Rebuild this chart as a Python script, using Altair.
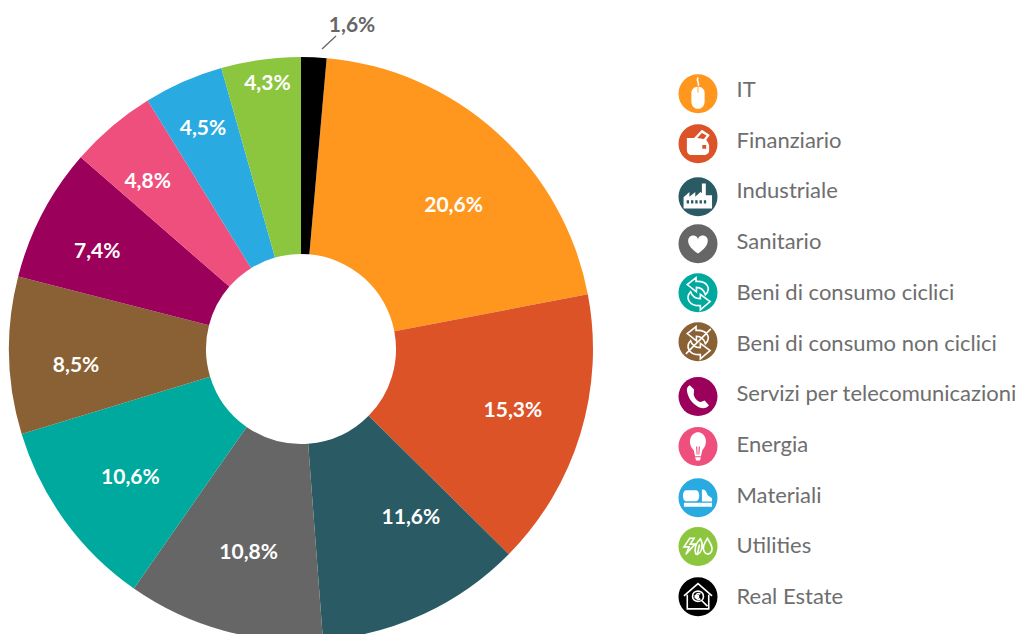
import altair as alt
import pandas as pd

sectors = ["IT", "Finanziario", "Industriale", "Sanitario", "Beni di consumo ciclici",
           "Beni di consumo non ciclici", "Servizi per telecomunicazioni", "Energia",
           "Materiali", "Utilities", "Real Estate"]
shares = [20.6, 15.3, 11.6, 10.8, 10.6, 8.5, 7.4, 4.8, 4.5, 4.3, 1.6]
# slice sizes as actually drawn in the picture (slightly off the printed labels)
drawn_shares = [20.6, 15.4, 11.4, 10.9, 10.6, 8.7, 7.4, 4.8, 4.4, 4.4, 1.4]
colors = ["#FF961E", "#DC5328", "#2A5A64", "#666666", "#00A99D", "#8A6135",
          "#9B005A", "#EE4F7C", "#29ABE2", "#8CC63F", "#000000"]
labels = ["20,6%", "15,3%", "11,6%", "10,8%", "10,6%", "8,5%", "7,4%", "4,8%", "4,5%", "4,3%", "1,6%"]

# nudges of each pie label away from the common label radius
label_nudge = [(3, 18), (2, -4), (20, -32), (9, -7), (9, 2), (-5, 14), (-9, 5), (-11, 1), (-10, -18), (-4, -47), (40, -103)]
# legend rows: small irregularities of the original's icons
icon_rows = [0, 0.994, 2.048, 2.982, 3.956, 4.93, 6.02, 7.01, 8.03, 9.0, 10]

ARROWS = ("M-0.1,-0.78 L-0.55,-0.42 L-0.08,-0.05 L-0.08,-0.28 C0.12,-0.28 0.3,-0.15 0.38,0.1 C0.68,-0.2 0.5,-0.62 -0.1,-0.58 Z "
          "M0.12,0.88 L0.62,0.45 L0.12,0.08 L0.12,0.3 C-0.1,0.3 -0.3,0.2 -0.38,-0.05 C-0.66,0.25 -0.48,0.68 0.12,0.66 Z")
fills = {
    "IT": "M-0.34,-0.05 C-0.34,-0.47 0.34,-0.47 0.34,-0.05 L0.34,0.38 C0.34,0.9 -0.34,0.9 -0.34,0.38 Z",
    "Finanziario": "M-0.57,-0.3 L-0.2,-0.3 L0.2,-0.72 L0.6,-0.45 L0.42,-0.2 C0.5,-0.1 0.57,0 0.57,0.1 L0.57,0.35 C0.57,0.5 0.45,0.58 0.3,0.58 L-0.3,0.58 C-0.5,0.58 -0.57,0.45 -0.57,0.3 Z",
    "Industriale": "M-0.74,0.6 L-0.74,0.02 L-0.44,-0.25 L-0.44,0.0 L-0.14,-0.25 L-0.14,0.0 L0.12,-0.25 L0.2,-0.2 L0.2,-0.68 L0.4,-0.68 L0.4,-0.08 L0.72,-0.08 L0.72,0.6 Z",
    "Sanitario": "M0,0.5 C-0.68,0.08 -0.58,-0.42 -0.24,-0.42 C-0.1,-0.42 0,-0.3 0,-0.22 C0,-0.3 0.1,-0.42 0.24,-0.42 C0.58,-0.42 0.68,0.08 0,0.5 Z",
    "Servizi per telecomunicazioni": "M-0.42,-0.58 L-0.2,-0.36 L-0.22,-0.1 C-0.18,0.08 -0.02,0.24 0.14,0.28 L0.34,0.2 L0.56,0.44 C0.46,0.58 0.25,0.66 0,0.52 C-0.32,0.34 -0.5,0.05 -0.56,-0.25 C-0.6,-0.4 -0.54,-0.52 -0.42,-0.58 Z",
    "Energia": "M-0.15,0.5 L-0.22,0.2 C-0.6,-0.2 -0.35,-0.72 0,-0.72 C0.35,-0.72 0.6,-0.2 0.22,0.2 L0.15,0.5 Z M-0.15,0.55 L0.15,0.55 L0.1,0.72 L-0.1,0.72 Z",
    "Materiali": "M-0.62,-0.38 L-0.1,-0.38 C0.12,-0.38 0.12,0.18 -0.1,0.18 L-0.62,0.18 C-0.82,0.18 -0.82,-0.38 -0.62,-0.38 Z M-0.72,0.26 L0.72,0.26 L0.72,0.46 L-0.72,0.46 Z M0.2,-0.42 C0.4,-0.45 0.45,-0.25 0.5,-0.12 L0.72,0.03 L0.72,0.2 L0.2,0.2 Z",
}
strokes = {
    "IT": "M0,-0.42 C0.12,-0.52 -0.12,-0.64 0,-0.84",
    "Beni di consumo ciclici": ARROWS,
    "Beni di consumo non ciclici": ARROWS + " M-0.62,0.62 L0.66,-0.66",
    "Utilities": "M-0.42,-0.42 L-0.72,0.02 L-0.45,0.02 L-0.62,0.4 L-0.15,-0.12 L-0.4,-0.12 L-0.2,-0.42 Z M-0.12,0.38 C-0.22,0.02 0,-0.28 0.12,-0.4 C0.3,-0.1 0.2,0.3 -0.02,0.4 Z M-0.05,0.45 L0.08,-0.1 M0.48,-0.42 C0.3,-0.12 0.22,0.04 0.32,0.26 C0.42,0.45 0.62,0.42 0.7,0.24 C0.8,0.02 0.6,-0.2 0.48,-0.42 Z",
    "Real Estate": "M-0.72,-0.05 L0,-0.68 L0.72,-0.05 M-0.55,-0.1 L-0.55,0.62 L0.55,0.62 L0.55,-0.1 M-0.28,-0.02 C-0.28,-0.38 0.28,-0.38 0.28,-0.02 C0.28,0.32 -0.28,0.32 -0.28,-0.02 Z M0.2,0.2 L0.48,0.48 M0.12,-0.14 C-0.05,-0.22 -0.13,-0.08 -0.12,0 C-0.1,0.1 0.02,0.16 0.12,0.1 M-0.18,-0.05 L0.06,-0.05 M-0.18,0.03 L0.06,0.03",
}
details = {
    "IT": "M-0.02,-0.4 L0.02,-0.4 L0.02,-0.05 L-0.02,-0.05 Z",
    "Finanziario": "M0.22,0.06 L0.42,0.06 L0.42,0.26 L0.22,0.26 Z M-0.04,-0.3 L0.2,-0.56 L0.44,-0.42 L0.3,-0.24 Z",
    "Industriale": "M-0.58,0.18 L-0.46,0.18 L-0.46,0.34 L-0.58,0.34 Z M-0.36,0.18 L-0.24,0.18 L-0.24,0.34 L-0.36,0.34 Z M-0.14,0.18 L-0.02,0.18 L-0.02,0.34 L-0.14,0.34 Z M0.08,0.18 L0.2,0.18 L0.2,0.34 L0.08,0.34 Z M0.3,0.18 L0.42,0.18 L0.42,0.34 L0.3,0.34 Z",
    "Energia": "M-0.07,0.42 L-0.1,0.0 L-0.04,0.0 L-0.02,0.42 Z M0.07,0.42 L0.1,0.0 L0.04,0.0 L0.02,0.42 Z",
}

df = pd.DataFrame({"sector": sectors, "share": shares, "drawn": drawn_shares, "color": colors, "label": labels})
order = [10] + list(range(10))          # Real Estate opens the ring at 12 o'clock
df["pos"] = [order.index(i) for i in range(11)]
df["icon_row"] = icon_rows
df["text_row"] = [-0.075 + 1.0079 * i for i in range(11)]
df["fill_path"] = [fills.get(s, "") for s in sectors]
df["stroke_path"] = [strokes.get(s, "") for s in sectors]
df["detail_path"] = [details.get(s, "") for s in sectors]
ordered = df.sort_values("pos").reset_index(drop=True)
ordered["cum"] = ordered["share"].cumsum() - ordered["share"] / 2
mid = dict(zip(ordered["sector"], ordered["cum"]))

W, H = 1014, 626
CX, CY = 293, 341
color_scale = alt.Scale(domain=sectors, range=colors)
row_y = alt.Scale(domain=[0, 10], range=[85.8, 588.8])

arcs = alt.Chart(df).mark_arc(radius=292, radius2=95, stroke=None).encode(
    theta=alt.Theta("drawn:Q", stack=True),
    order=alt.Order("pos:Q"),
    color=alt.Color("sector:N", scale=color_scale, legend=None),
    x=alt.value(CX), y=alt.value(CY),
)

layers = [arcs]
for i, row in df.iterrows():
    dx, dy = label_nudge[i]
    is_out = row["sector"] == "Real Estate"
    d = pd.DataFrame({"mid": [mid[row["sector"]]], "label": [row["label"]]})
    layers.append(alt.Chart(d).mark_text(
        radius=220, dx=dx, dy=dy, font="Lato", fontWeight="bold", fontSize=21,
        color="#666666" if is_out else "#FFFFFF",
    ).encode(
        theta=alt.Theta("mid:Q", stack=None, scale=alt.Scale(domain=[0, 100], range=[0, 6.283185307])),
        text="label:N", x=alt.value(CX), y=alt.value(CY),
    ))

leader = alt.Chart(pd.DataFrame({"a": [0]})).mark_rule(color="#666666", strokeWidth=1.3).encode(
    x=alt.value(314), x2=alt.value(328), y=alt.value(41), y2=alt.value(28))
layers.append(leader)

circles = alt.Chart(df).mark_point(filled=True, opacity=1, shape="circle", size=1521).encode(
    x=alt.value(690),
    y=alt.Y("icon_row:Q", scale=row_y, axis=None),
    color=alt.Color("sector:N", scale=color_scale, legend=None),
)
layers.append(circles)

icon_fill = alt.Chart(df[df.fill_path != ""]).mark_point(filled=True, opacity=1, size=1521, color="#FFFFFF").encode(
    x=alt.value(690), y=alt.Y("icon_row:Q", scale=row_y, axis=None),
    shape=alt.Shape("fill_path:N", scale=None),
)
icon_stroke = alt.Chart(df[df.stroke_path != ""]).mark_point(filled=False, opacity=1, size=1521, color="#FFFFFF", strokeWidth=1.6).encode(
    x=alt.value(690), y=alt.Y("icon_row:Q", scale=row_y, axis=None),
    shape=alt.Shape("stroke_path:N", scale=None),
)
icon_detail = alt.Chart(df[df.detail_path != ""]).mark_point(filled=True, opacity=1, size=1521).encode(
    x=alt.value(690), y=alt.Y("icon_row:Q", scale=row_y, axis=None),
    shape=alt.Shape("detail_path:N", scale=None),
    color=alt.Color("sector:N", scale=color_scale, legend=None),
)
layers += [icon_fill, icon_stroke, icon_detail]

legend_text = alt.Chart(df).mark_text(align="left", baseline="middle", font="Lato", fontSize=22, color="#6E6E6E").encode(
    x=alt.value(728.5), y=alt.Y("text_row:Q", scale=row_y, axis=None), text="sector:N",
)
layers.append(legend_text)

chart = alt.layer(*layers).properties(width=W, height=H, padding=0, autosize=alt.AutoSizeParams(type="none")).configure_view(stroke=None, clip=False)
chart.save("out.html", embed_options={"renderer": "svg", "actions": False,
                                      "defaultStyle": "html{overflow:hidden} body{overflow:visible;width:1014px} #vis{width:1014px !important;overflow:visible} svg{flex:none;max-width:none}"})
